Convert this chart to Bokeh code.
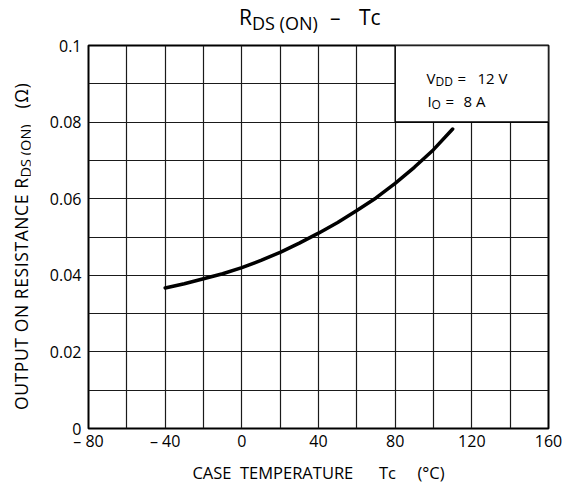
from bokeh.plotting import figure
from bokeh.models import FixedTicker, Label, Div
from bokeh.layouts import column, row
from bokeh.embed import file_html
from bokeh.resources import INLINE

# data
temps = [-40, -30, -20, -10, 0, 10, 20, 30, 40, 50, 60, 70, 80, 90, 100, 110]
rds_on = [0.0367, 0.0378, 0.0391, 0.0404, 0.0420, 0.0439, 0.0460, 0.0484,
          0.0510, 0.0538, 0.0569, 0.0602, 0.0640, 0.0682, 0.0728, 0.0782]

x_ticks = [-80, -40, 0, 40, 80, 120, 160]
x_tick_labels = ["\u2013 80", "\u2013 40", "0", "40", "80", "120", "160"]
y_ticks = [0.0, 0.02, 0.04, 0.06, 0.08, 0.1]
y_tick_labels = ["0", "0.02", "0.04", "0.06", "0.08", "0.1"]
x_grid = [-80, -60, -40, -20, 0, 20, 40, 60, 80, 100, 120, 140, 160]
y_grid = [0.0, 0.01, 0.02, 0.03, 0.04, 0.05, 0.06, 0.07, 0.08, 0.09, 0.1]
note_box = dict(left=80, right=160, bottom=0.08, top=0.1)

NB = "\u00a0"
x_label = f"CASE{NB*2}TEMPERATURE{NB*6}Tc{NB*5}(\u00b0C)"

FONT = "Open Sans"
CSS = "font-family:'Open Sans',sans-serif;color:black;white-space:nowrap;"

p = figure(width=536, height=451, output_backend="svg", toolbar_location=None,
           x_range=(-80, 160), y_range=(0, 0.1), title=None,
           min_border_left=58, min_border_right=18, min_border_top=10,
           min_border_bottom=58)
p.background_fill_color = "white"
p.border_fill_color = "white"
p.outline_line_color = "black"
p.outline_line_width = 2

for ax in (p.xaxis, p.yaxis):
    ax.major_tick_line_color = None
    ax.minor_tick_line_color = None
    ax.major_tick_out = 0
    ax.major_tick_in = 0
    ax.minor_tick_out = 0
    ax.minor_tick_in = 0
    ax.axis_line_color = None
    ax.major_label_text_font = FONT
    ax.major_label_text_font_size = "16px"
    ax.major_label_text_color = "black"

p.xaxis.ticker = FixedTicker(ticks=x_ticks)
p.xaxis.major_label_overrides = {t: l for t, l in zip(x_ticks, x_tick_labels)}
p.xaxis.major_label_standoff = 1
p.xaxis.axis_label = x_label
p.xaxis.axis_label_text_font = FONT
p.xaxis.axis_label_text_font_size = "16.5px"
p.xaxis.axis_label_text_font_style = "normal"
p.xaxis.axis_label_text_color = "black"
p.xaxis.axis_label_standoff = 6
p.yaxis.ticker = FixedTicker(ticks=y_ticks)
p.yaxis.major_label_overrides = {t: l for t, l in zip(y_ticks, y_tick_labels)}
p.yaxis.major_label_standoff = 7

p.xgrid.ticker = FixedTicker(ticks=x_grid)
p.ygrid.ticker = FixedTicker(ticks=y_grid)
for g in (p.xgrid, p.ygrid):
    g.grid_line_color = "#1a1a1a"
    g.grid_line_width = 1.2
    g.grid_line_alpha = 1.0

p.quad(left=[note_box["left"]], right=[note_box["right"]],
       bottom=[note_box["bottom"]], top=[note_box["top"]],
       fill_color="white", line_color="black", line_width=1.5)

p.line(temps, rds_on, line_color="black", line_width=3.5, line_cap="round",
       line_join="round")


def lab(text, x, y, size):
    p.add_layout(Label(x=x, y=y, x_units="screen", y_units="screen", text=text,
                       text_font=FONT, text_font_size=f"{size}px",
                       text_color="black", text_align="left",
                       text_baseline="alphabetic"))

# note box text (frame-relative: fx = page_x - 88, fy = 428 - page_y)
lab("V", 338, 351, 15)
lab("DD", 347, 347, 12)
lab("=", 369, 351, 15)
lab("12 V", 389, 351, 15)
lab("I", 339, 328, 15)
lab("O", 343, 324, 12)
lab("=", 357, 328, 15)
lab("8 A", 375, 328, 15)


def span(text, left, baseline, size):
    top = baseline - 0.888 * size
    return (f"<span style=\"position:absolute;left:{left}px;top:{top:.1f}px;"
            f"font-size:{size}px;line-height:{size}px;\">{text}</span>")


title_div = Div(width=550, height=25, text=(
    f"<div style=\"position:relative;width:550px;height:25px;{CSS}\">"
    + span("R", 234, 21, 21)
    + span("DS (ON)", 247, 25, 18)
    + span("\u2013", 325, 21, 21)
    + span("Tc", 354, 21, 21)
    + "</div>"))

ylab_div = Div(width=20, height=451, text=(
    f"<div style=\"position:relative;width:20px;height:451px;{CSS}\">"
    "<div style=\"position:absolute;left:5px;top:370px;width:400px;"
    "font-size:17.5px;line-height:22px;letter-spacing:0.6px;"
    "transform:rotate(-90deg);transform-origin:left top;\">"
    "OUTPUT ON RESISTANCE R"
    "<span style=\"font-size:14.5px;letter-spacing:0px;position:relative;top:3px;\">"
    "DS (ON)</span>"
    "<span style=\"margin-left:16px;\">(\u03a9)</span></div></div>"))

layout = column(title_div, row(ylab_div, p))

open("out.html", "w").write(file_html(layout, INLINE))
